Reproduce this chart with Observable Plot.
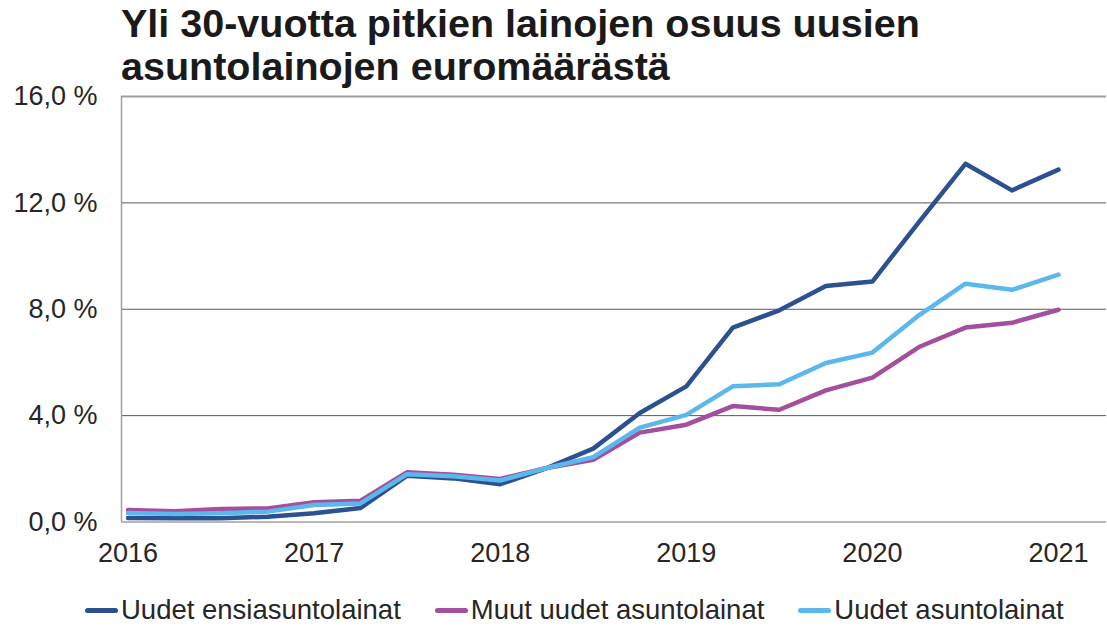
<!DOCTYPE html>
<html>
<head>
<meta charset="utf-8">
<script src="https://cdn.jsdelivr.net/npm/d3@7"></script>
<script src="https://cdn.jsdelivr.net/npm/@observablehq/plot@0.6"></script>
<style>
  html, body { margin: 0; padding: 0; background: #fff; }
  body { width: 1107px; height: 627px; overflow: hidden; font-family: "Liberation Sans", Arial, sans-serif; color: #262626; }
  #title { height: 90px; position: relative; }
  #title div { position: absolute; left: 121px; top: 2px; font-size: 39.5px; font-weight: bold; line-height: 43px; color: #1a1a1a; white-space: nowrap; }
  #chart { height: 480px; }
  #legend { display: flex; align-items: center; padding-left: 85px; margin-top: 25px; height: 30px; font-size: 27.5px; }
  .item { display: flex; align-items: center; margin-right: 34px; }
  .sw { width: 33px; height: 5px; border-radius: 2.5px; margin-right: 3px; }
</style>
</head>
<body>
<div id="title"><div>Yli 30-vuotta pitkien lainojen osuus uusien<br>asuntolainojen euromäärästä</div></div>
<div id="chart"></div>
<div id="legend"></div>
<script>
const quarters = ["2016Q1","2016Q2","2016Q3","2016Q4","2017Q1","2017Q2","2017Q3","2017Q4",
  "2018Q1","2018Q2","2018Q3","2018Q4","2019Q1","2019Q2","2019Q3","2019Q4",
  "2020Q1","2020Q2","2020Q3","2020Q4","2021Q1"];
const seriesNames = ["Uudet ensiasuntolainat", "Muut uudet asuntolainat", "Uudet asuntolainat"];
const seriesColors = ["#2d5190", "#a44f9d", "#5ab8ec"];
const ensi  = [0.15,0.14,0.14,0.20,0.33,0.53,1.74,1.64,1.42,2.03,2.76,4.10,5.10,7.31,7.96,8.87,9.04,11.28,13.47,12.47,13.25];
const muut  = [0.45,0.40,0.49,0.51,0.74,0.80,1.87,1.78,1.62,2.03,2.34,3.36,3.66,4.36,4.22,4.95,5.43,6.58,7.31,7.49,7.98];
const uudet = [0.34,0.30,0.33,0.39,0.64,0.70,1.80,1.72,1.56,2.03,2.44,3.55,4.03,5.10,5.18,5.98,6.37,7.77,8.96,8.73,9.30];
const xTicks = [2016, 2017, 2018, 2019, 2020, 2021];
const yTicks = [0, 4, 8, 12, 16];

const qToX = q => +q.slice(0, 4) + (+q.slice(5) - 1) / 4;
const allSeries = [ensi, muut, uudet];
const rows = allSeries.map((vals, i) => quarters.map((q, j) => ({x: qToX(q), y: vals[j], s: seriesNames[i]})));

const xDomain = [2015.965, 2021.258];
const fmtY = d => d.toFixed(1).replace(".", ",") + " %";

const chart = Plot.plot({
  width: 1107,
  height: 480,
  marginTop: 6,
  marginBottom: 48.5,
  marginLeft: 121,
  marginRight: 1,
  style: {fontFamily: "'Liberation Sans', Arial, sans-serif", fontSize: "27px", color: "#262626", background: "#fff", overflow: "visible"},
  x: {domain: xDomain, ticks: xTicks, tickFormat: d => String(d), tickSize: 0, tickPadding: 21, label: null},
  y: {domain: [0, 16], ticks: yTicks, tickFormat: fmtY, tickSize: 0, tickPadding: 24, label: null},
  marks: [
    Plot.ruleY(yTicks.slice(1, -1), {stroke: "#595959", strokeWidth: 1}),
    Plot.ruleY([yTicks[yTicks.length - 1]], {stroke: "#a0a0a0", strokeWidth: 1.8}),
    Plot.ruleY([yTicks[0]], {stroke: "#a0a0a0", strokeWidth: 1.5}),
    Plot.ruleX([xDomain[0]], {stroke: "#a0a0a0", strokeWidth: 1.5}),
    ...rows.map((data, i) => Plot.line(data, {x: "x", y: "y", stroke: seriesColors[i], strokeWidth: 4.5, strokeLinejoin: "round", strokeLinecap: "round"}))
  ]
});
document.getElementById("chart").appendChild(chart);

const legend = document.getElementById("legend");
seriesNames.forEach((name, i) => {
  const item = document.createElement("div");
  item.className = "item";
  const sw = document.createElement("span");
  sw.className = "sw";
  sw.style.background = seriesColors[i];
  const t = document.createElement("span");
  t.textContent = name;
  item.appendChild(sw);
  item.appendChild(t);
  legend.appendChild(item);
});
</script>
</body>
</html>
